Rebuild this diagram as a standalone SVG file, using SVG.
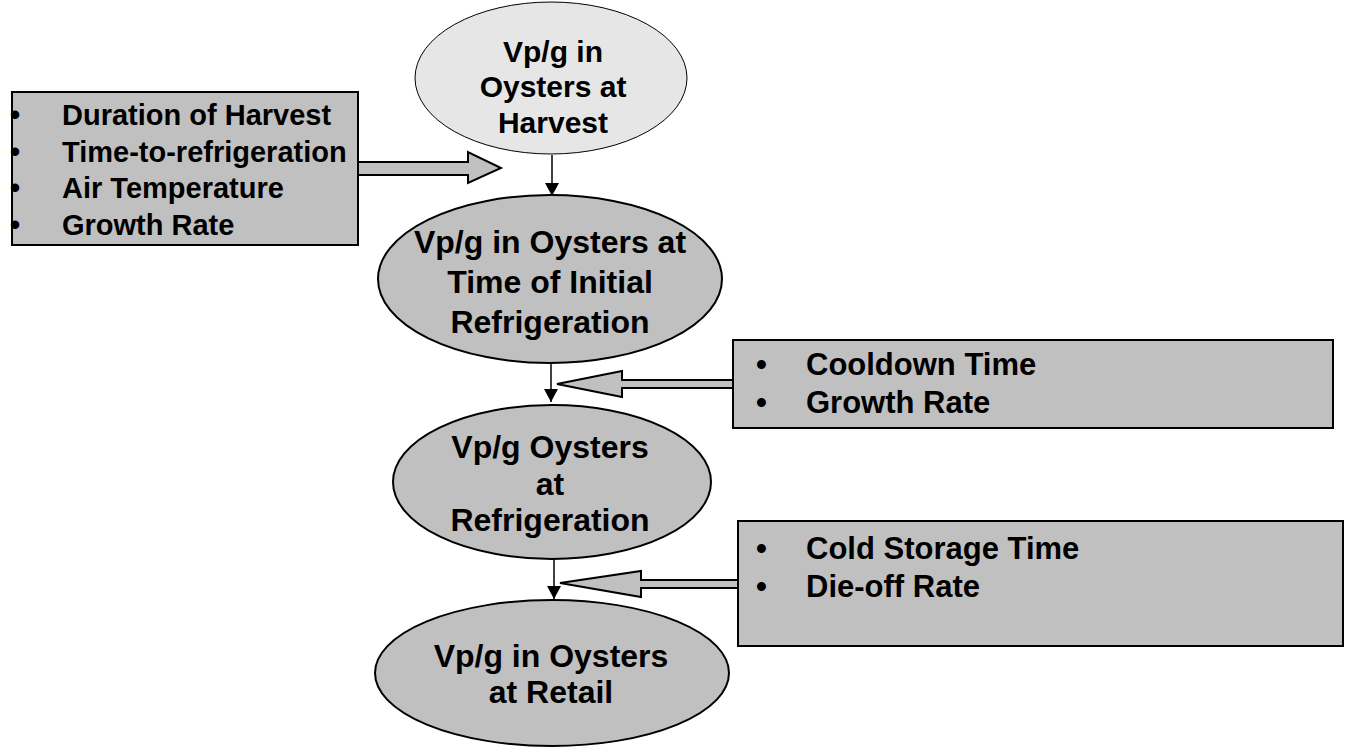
<svg xmlns="http://www.w3.org/2000/svg" width="1349" height="750" viewBox="0 0 1349 750">
<style>
text{font-family:"Liberation Sans",Arial,sans-serif;font-weight:bold;fill:#000}
.c{text-anchor:middle}
.e{fill:#c0c0c0;stroke:#000;stroke-width:2}
.box{fill:#c0c0c0;stroke:#000;stroke-width:2}
.blk{fill:#c0c0c0;stroke:#000;stroke-width:2;stroke-linejoin:miter}
.ln{stroke:#000;stroke-width:1.5;fill:none;marker-end:url(#ah)}
</style>
<defs>
<marker id="ah" markerUnits="userSpaceOnUse" markerWidth="14" markerHeight="14" refX="13" refY="7" orient="auto">
<path d="M0,0 L13,7 L0,14 z" fill="#000"/>
</marker>
</defs>
<rect width="1349" height="750" fill="#fff"/>
<g id="connectors">
<polygon class="blk" points="358,162 468,162 468,152 501,168 468,183 468,175 358,175"/>
<polygon class="blk" points="733,380 622,380 622,371 557,384 622,397 622,388 733,388"/>
<polygon class="blk" points="738,580 641,580 641,571 560,583 641,597 641,588 738,588"/>
<line class="ln" x1="552" y1="155" x2="552" y2="196"/>
<line class="ln" x1="551" y1="363" x2="551" y2="402"/>
<line class="ln" x1="554" y1="560" x2="554" y2="599"/>
</g>
<g id="n1">
<ellipse cx="551" cy="78" rx="136" ry="76" fill="#e6e6e6" stroke="#000" stroke-width="1"/>
<text class="c" x="553" y="62" font-size="30">Vp/g in</text>
<text class="c" x="553" y="97" font-size="30">Oysters at</text>
<text class="c" x="553" y="133" font-size="30">Harvest</text>
</g>
<g id="n2">
<ellipse class="e" cx="550" cy="279" rx="172" ry="84"/>
<text class="c" x="550" y="253" font-size="32">Vp/g in Oysters at</text>
<text class="c" x="550" y="293" font-size="32">Time of Initial</text>
<text class="c" x="550" y="333" font-size="32">Refrigeration</text>
</g>
<g id="n3">
<ellipse class="e" cx="552" cy="482" rx="159" ry="77"/>
<text class="c" x="550" y="458" font-size="32">Vp/g Oysters</text>
<text class="c" x="550" y="495" font-size="32">at</text>
<text class="c" x="550" y="531" font-size="32">Refrigeration</text>
</g>
<g id="n4">
<ellipse class="e" cx="552" cy="673" rx="177" ry="73"/>
<text class="c" x="551" y="667" font-size="32">Vp/g in Oysters</text>
<text class="c" x="551" y="703" font-size="32">at Retail</text>
</g>
<g id="b1">
<rect class="box" x="12" y="92" width="346" height="153"/>
<text x="10" y="125" font-size="29">•</text><text x="62" y="125" font-size="29">Duration of Harvest</text>
<text x="10" y="162" font-size="29">•</text><text x="62" y="162" font-size="29">Time-to-refrigeration</text>
<text x="10" y="198" font-size="29">•</text><text x="62" y="198" font-size="29">Air Temperature</text>
<text x="10" y="235" font-size="29">•</text><text x="62" y="235" font-size="29">Growth Rate</text>
</g>
<g id="b2">
<rect class="box" x="733" y="340" width="600" height="88"/>
<text x="756" y="375" font-size="31">•</text><text x="806" y="375" font-size="31">Cooldown Time</text>
<text x="756" y="413" font-size="31">•</text><text x="806" y="413" font-size="31">Growth Rate</text>
</g>
<g id="b3">
<rect class="box" x="738" y="521" width="605" height="125"/>
<text x="756" y="559" font-size="31">•</text><text x="806" y="559" font-size="31">Cold Storage Time</text>
<text x="756" y="597" font-size="31">•</text><text x="806" y="597" font-size="31">Die-off Rate</text>
</g>
</svg>
